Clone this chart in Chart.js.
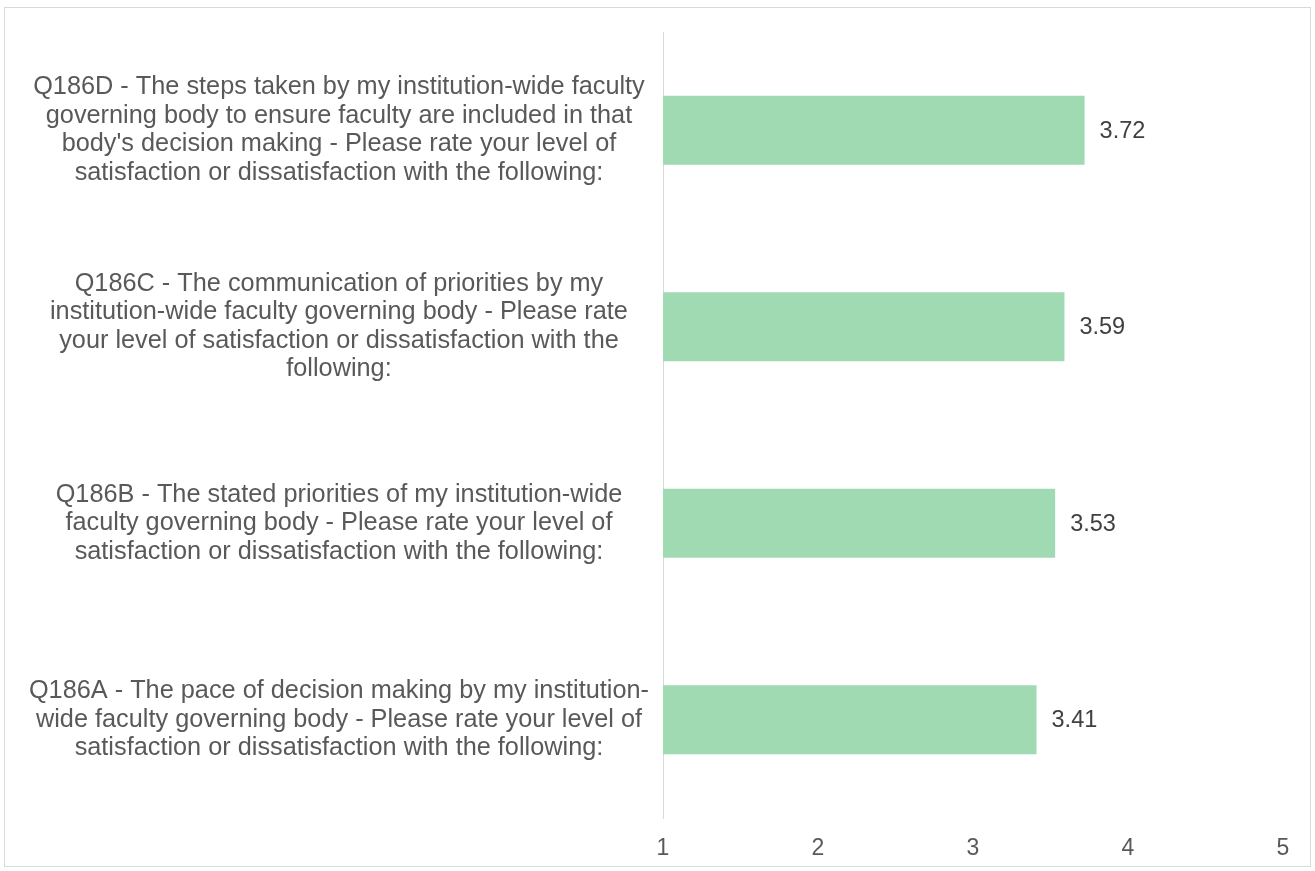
<!DOCTYPE html>
<html>
<head>
<meta charset="utf-8">
<script src="https://cdn.jsdelivr.net/npm/chart.js@4.4.1/dist/chart.umd.min.js"></script>
<style>
  html, body { margin: 0; padding: 0; background: #fff; }
  #wrap { position: relative; width: 1315px; height: 871px; }
  #frame { position: absolute; left: 4px; top: 7px; width: 1307px; height: 860px; border: 1px solid #d9d9d9; box-sizing: border-box; pointer-events: none; }
</style>
</head>
<body>
<div id="wrap">
  <canvas id="c" width="1315" height="871"></canvas>
  <div id="frame"></div>
</div>
<script>
const categories = [
  ["Q186D - The steps taken by my institution-wide faculty", "governing body to ensure faculty are included in that", "body's decision making - Please rate your level of", "satisfaction or dissatisfaction with the following:"],
  ["Q186C - The communication of priorities by my", "institution-wide faculty governing body - Please rate", "your level of satisfaction or dissatisfaction with the", "following:"],
  ["Q186B - The stated priorities of my institution-wide", "faculty governing body - Please rate your level of", "satisfaction or dissatisfaction with the following:"],
  ["Q186A - The pace of decision making by my institution-", "wide faculty governing body - Please rate your level of", "satisfaction or dissatisfaction with the following:"]
];
const values = [3.72, 3.59, 3.53, 3.41];
const xTicks = [1, 2, 3, 4, 5];

const FONT = "'Liberation Sans', Arial, sans-serif";

const valueLabels = {
  id: 'valueLabels',
  afterDatasetsDraw(chart) {
    const ctx = chart.ctx;
    const meta = chart.getDatasetMeta(0);
    ctx.save();
    ctx.font = "23.5px " + FONT;
    ctx.fillStyle = '#404040';
    ctx.textAlign = 'left';
    ctx.textBaseline = 'middle';
    meta.data.forEach((bar, i) => {
      ctx.fillText(values[i].toFixed(2), bar.x + 15, bar.y + 1);
    });
    ctx.restore();
  }
};

new Chart(document.getElementById('c'), {
  type: 'bar',
  data: {
    labels: categories,
    datasets: [{
      data: values,
      backgroundColor: '#A0DAB2',
      borderWidth: 0,
      categoryPercentage: 1,
      barPercentage: 0.35
    }]
  },
  options: {
    indexAxis: 'y',
    responsive: false,
    animation: false,
    layout: { padding: { left: 0, right: 32, top: 32, bottom: 0 } },
    plugins: { legend: { display: false }, tooltip: { enabled: false } },
    scales: {
      x: {
        min: 1, max: 5,
        afterBuildTicks(scale) { scale.ticks = xTicks.map(v => ({ value: v })); },
        afterFit(scale) { scale.paddingLeft = 0; scale.paddingRight = 0; scale.height = 53; },
        grid: { display: false, drawTicks: false },
        border: { display: false },
        ticks: { color: '#595959', font: { family: FONT, size: 23 }, padding: 17 }
      },
      y: {
        afterFit(scale) { scale.width = 663; scale.paddingTop = 0; scale.paddingBottom = 0; },
        grid: { display: false, drawTicks: false },
        border: { display: true, color: '#D9D9D9', width: 1 },
        ticks: {
          color: '#595959',
          font: { family: FONT, size: 25.3, lineHeight: '28.5px' },
          crossAlign: 'center',
          padding: 14
        }
      }
    }
  },
  plugins: [valueLabels]
});
</script>
</body>
</html>
